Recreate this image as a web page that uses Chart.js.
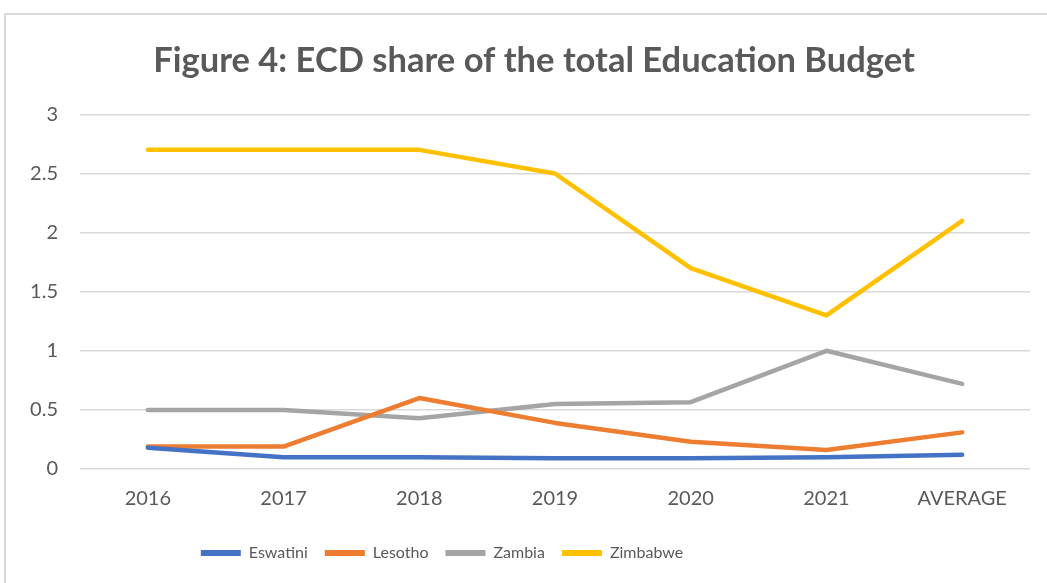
<!DOCTYPE html>
<html>
<head>
<meta charset="utf-8">
<script src="https://cdn.jsdelivr.net/npm/chart.js@4.4.0/dist/chart.umd.min.js"></script>
<style>
  html, body { margin: 0; padding: 0; background: #fff; overflow: hidden; }
  #frame { position: absolute; left: 4px; top: 13px; width: 1100px; height: 700px;
           border-left: 2px solid #d9d9d9; border-top: 2px solid #d9d9d9; }
  #wrap { position: absolute; left: 0; top: 0; width: 1047px; height: 583px; }
</style>
</head>
<body>
<div id="frame"></div>
<div id="wrap"><canvas id="chart"></canvas></div>
<script>
// Data
const years = ['2016', '2017', '2018', '2019', '2020', '2021', 'AVERAGE'];
const eswatini = [0.18, 0.1, 0.1, 0.09, 0.09, 0.1, 0.12];
const lesotho = [0.19, 0.19, 0.6, 0.39, 0.23, 0.16, 0.31];
const zambia = [0.5, 0.5, 0.43, 0.55, 0.565, 1.0, 0.72];
const zimbabwe = [2.7, 2.7, 2.7, 2.5, 1.7, 1.3, 2.1];
const yTicks = [0, 0.5, 1, 1.5, 2, 2.5, 3];

const textColor = '#595959';
const gridColor = '#d9d9d9';
const fontFamily = 'Lato, "Open Sans", sans-serif';

function series(label, data, color) {
  return {
    label: label,
    data: data,
    borderColor: color,
    backgroundColor: color,
    borderWidth: 4.5,
    borderCapStyle: 'round',
    borderJoinStyle: 'round',
    pointRadius: 0,
    pointHoverRadius: 0,
    tension: 0,
  };
}

// Excel puts the legend a bit left of centre and the title a bit right
const nudgeBoxes = {
  id: 'nudgeBoxes',
  afterLayout(chart) {
    if (chart.legend) { chart.legend.left -= 83; chart.legend.right -= 83; }
    if (chart.titleBlock) { chart.titleBlock.left += 9; chart.titleBlock.right += 9; }
  },
};

const ctx = document.getElementById('chart').getContext('2d');
const chart = new Chart(ctx, {
  type: 'line',
  data: {
    labels: years,
    datasets: [
      series('Eswatini', eswatini, '#4472C4'),
      series('Lesotho', lesotho, '#ED7D31'),
      series('Zambia', zambia, '#A5A5A5'),
      series('Zimbabwe', zimbabwe, '#FFC000'),
    ],
  },
  plugins: [nudgeBoxes],
  options: {
    responsive: true,
    maintainAspectRatio: false,
    animation: false,
    layout: { padding: { left: 20, right: 17, top: 40, bottom: 12 } },
    plugins: {
      title: {
        display: true,
        text: 'Figure 4: ECD share of the total Education Budget',
        color: textColor,
        font: { family: fontFamily, size: 34.5, weight: 'bold' },
        padding: { top: 0, bottom: 33 },
      },
      legend: {
        position: 'bottom',
        labels: {
          color: textColor,
          font: { family: fontFamily, size: 16 },
          boxWidth: 40,
          boxHeight: 6,
          padding: 17,
          generateLabels(chart) {
            const items = Chart.defaults.plugins.legend.labels.generateLabels(chart);
            items.forEach(item => { item.lineWidth = 0; });
            return items;
          },
        },
      },
      tooltip: { enabled: false },
    },
    scales: {
      x: {
        offset: true,
        afterFit(scale) { scale.height += 7; },
        grid: { display: false },
        border: { display: false },
        ticks: { color: textColor, font: { family: fontFamily, size: 20 }, padding: 10 },
      },
      y: {
        min: 0,
        max: 3,
        afterBuildTicks(scale) {
          scale.ticks = yTicks.map(v => ({ value: v }));
        },
        afterFit(scale) { scale.width = 60; },
        grid: { color: gridColor, lineWidth: 1.5, drawTicks: false },
        border: { display: false },
        ticks: {
          color: textColor,
          font: { family: fontFamily, size: 20 },
          padding: 22,
          callback: v => String(v),
        },
      },
    },
  },
});
</script>
</body>
</html>
